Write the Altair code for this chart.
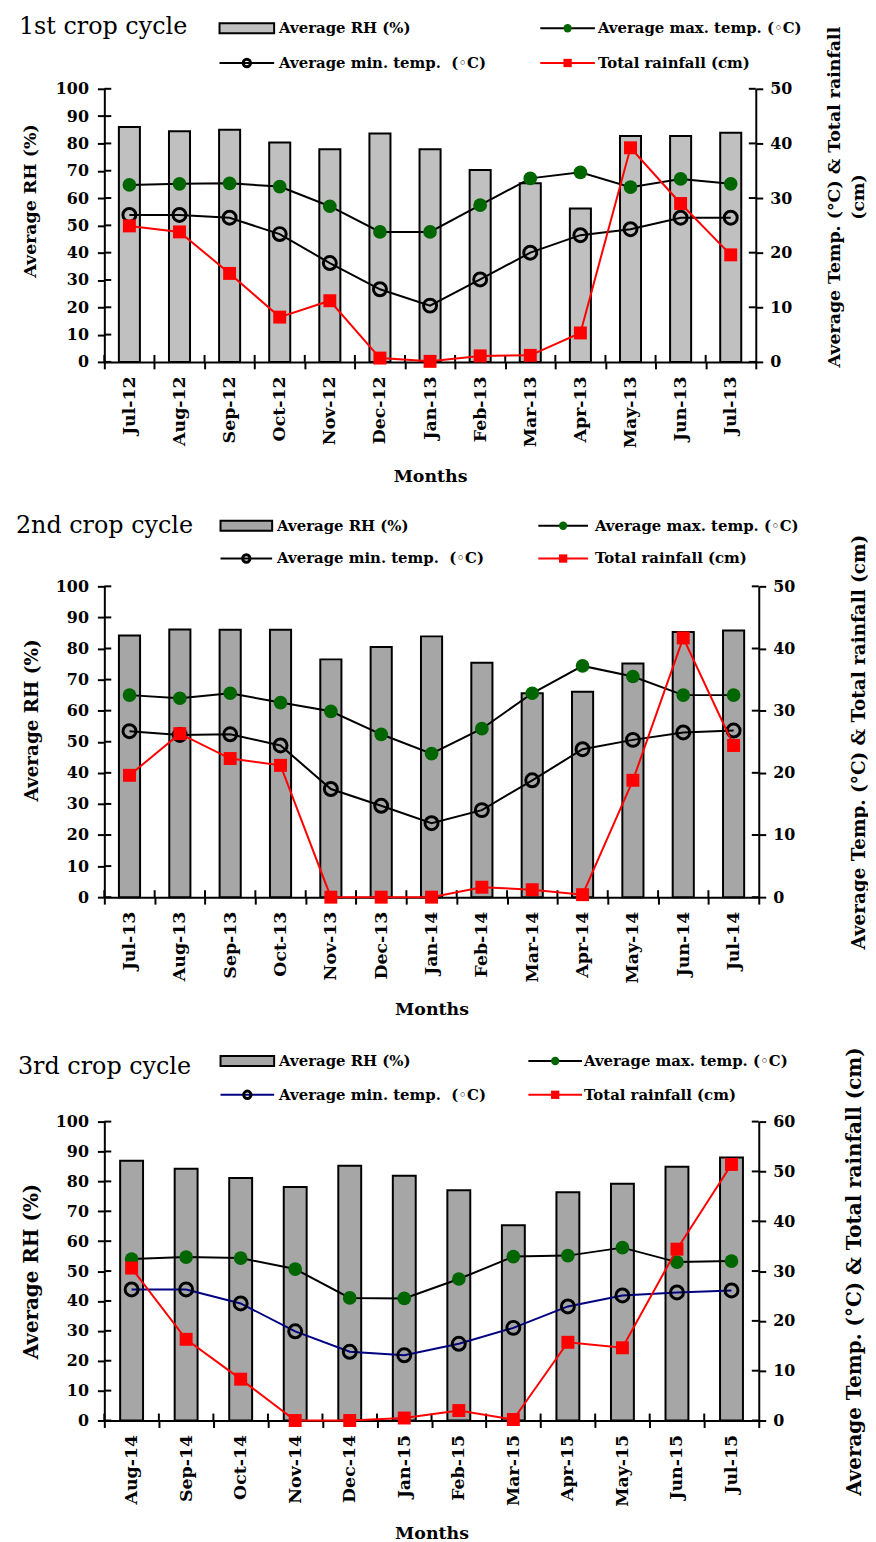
import altair as alt
import pandas as pd

FONT = "DejaVu Serif"

# ---------------- data ----------------
months1 = ["Jul-12", "Aug-12", "Sep-12", "Oct-12", "Nov-12", "Dec-12", "Jan-13",
           "Feb-13", "Mar-13", "Apr-13", "May-13", "Jun-13", "Jul-13"]
rh1 = [86.0, 84.5, 85.0, 80.3, 77.9, 83.6, 77.9, 70.3, 65.4, 56.2, 82.7, 82.7, 83.9]
tmax1 = [32.4, 32.6, 32.7, 32.1, 28.5, 23.8, 23.8, 28.7, 33.6, 34.7, 32.0, 33.5, 32.6]
tmin1 = [26.9, 26.9, 26.4, 23.4, 18.1, 13.3, 10.3, 15.1, 20.0, 23.2, 24.3, 26.4, 26.4]
rain1 = [24.9, 23.8, 16.2, 8.2, 11.2, 0.7, 0.1, 1.1, 1.2, 5.3, 39.2, 29.0, 19.6]

months2 = ["Jul-13", "Aug-13", "Sep-13", "Oct-13", "Nov-13", "Dec-13", "Jan-14",
           "Feb-14", "Mar-14", "Apr-14", "May-14", "Jun-14", "Jul-14"]
rh2 = [84.2, 86.1, 86.0, 86.0, 76.5, 80.5, 83.9, 75.4, 65.6, 66.1, 75.2, 85.3, 85.8]
tmax2 = [32.5, 32.0, 32.8, 31.3, 29.9, 26.2, 23.1, 27.1, 32.8, 37.2, 35.5, 32.5, 32.5]
tmin2 = [26.7, 26.1, 26.2, 24.4, 17.4, 14.7, 11.9, 14.0, 18.8, 23.8, 25.3, 26.5, 26.8]
rain2 = [19.6, 26.3, 22.3, 21.2, 0.0, 0.0, 0.0, 1.6, 1.2, 0.4, 18.8, 41.7, 24.4]

months3 = ["Aug-14", "Sep-14", "Oct-14", "Nov-14", "Dec-14", "Jan-15", "Feb-15",
           "Mar-15", "Apr-15", "May-15", "Jun-15", "Jul-15"]
rh3 = [86.9, 84.2, 81.1, 78.1, 85.2, 81.9, 77.0, 65.3, 76.4, 79.2, 84.9, 88.0]
tmax3 = [32.4, 32.8, 32.6, 30.4, 24.6, 24.5, 28.4, 32.9, 33.1, 34.7, 31.8, 32.0]
tmin3 = [26.3, 26.3, 23.5, 17.9, 13.8, 13.1, 15.4, 18.6, 22.9, 25.1, 25.7, 26.1]
rain3 = [30.6, 16.3, 8.3, 0.0, 0.0, 0.5, 2.0, 0.2, 15.7, 14.6, 34.4, 51.4]

legend_labels = ["Average RH (%)", "Average max. temp. (\u25e6C)",
                 "Average min. temp.\u00a0 (\u25e6C)", "Total rainfall (cm)"]
right_title_long = "Average Temp. (\u00b0C) & Total rainfall (cm)"

GREEN = "#006600"
RED = "#ff0000"
TICK_IN = 7


def one():
    return pd.DataFrame({"k": [0]})


def panel(title, months, rh, tmax, tmin, rain, rmax, bar_color, min_color,
          width, height, right_title, title_size, ltitle_pad, ltitle_dy,
          rtitle_pad, rtitle_dy, months_pad, lg):
    df = pd.DataFrame({"month": months, "rh": rh})
    long = pd.DataFrame({
        "month": months * 3,
        "series": ["max"] * len(months) + ["min"] * len(months) + ["rain"] * len(months),
        "value": tmax + tmin + rain,
    })
    xaxis = alt.Axis(title="Months", labelAngle=-90, tickBand="extent",
                     labelPadding=7, titlePadding=months_pad, labelFontSize=17.5,
                     titleFontSize=17.5)
    xscale = alt.Scale(paddingInner=0, paddingOuter=0)
    x = alt.X("month:N", sort=months, scale=xscale, axis=xaxis)

    lticks = list(range(0, 101, 10))
    laxis = alt.Axis(title="Average RH (%)", values=lticks,
                     titlePadding=ltitle_pad, labelPadding=9,
                     titleY=height / 2 + ltitle_dy, titleFontSize=title_size)
    lscale = alt.Scale(domain=[0, 100], nice=False)
    bars = alt.Chart(df).mark_bar(
        width=alt.RelativeBandSize(0.42), fill=bar_color, stroke="black", strokeWidth=2
    ).encode(x=x, y=alt.Y("rh:Q", scale=lscale, axis=laxis))
    # inner half of the crossing ticks (left axis)
    ltick_marks = alt.Chart(pd.DataFrame({"rh": lticks})).mark_rule(
        color="black", strokeWidth=2).encode(
        x=alt.value(0), x2=alt.value(TICK_IN),
        y=alt.Y("rh:Q", scale=lscale, axis=laxis))
    # inner half of the crossing ticks (x axis, at band edges)
    xtick_marks = alt.Chart(df).mark_rule(color="black", strokeWidth=2).encode(
        x=alt.X("month:N", sort=months, scale=xscale, axis=xaxis, bandPosition=0),
        y=alt.value(height - TICK_IN), y2=alt.value(height))
    left = alt.layer(bars, ltick_marks, xtick_marks)

    rticks = list(range(0, rmax + 1, 10))
    yaxis = alt.Axis(title=right_title, orient="right",
                     values=rticks, titleAngle=-90,
                     titlePadding=rtitle_pad, labelPadding=7, titleLineHeight=24,
                     titleY=height / 2 + rtitle_dy,
                     titleFontSize=title_size)
    rscale = alt.Scale(domain=[0, rmax], nice=False)
    y = alt.Y("value:Q", scale=rscale, axis=yaxis)
    base = alt.Chart(long).encode(x=alt.X("month:N", sort=months), y=y)
    fmax = alt.datum.series == "max"
    fmin = alt.datum.series == "min"
    frain = alt.datum.series == "rain"
    right = alt.layer(
        alt.Chart(pd.DataFrame({"value": rticks})).mark_rule(
            color="black", strokeWidth=2).encode(
            x=alt.value(width - TICK_IN), x2=alt.value(width), y=y),
        base.transform_filter(fmax).mark_line(color="black", strokeWidth=2),
        base.transform_filter(fmax).mark_point(shape="circle", filled=True,
                                               color=GREEN, size=190, opacity=1),
        base.transform_filter(fmin).mark_line(color=min_color, strokeWidth=2),
        base.transform_filter(fmin).mark_point(shape="circle", filled=False,
                                               stroke="black", strokeWidth=3,
                                               size=170, opacity=1),
        base.transform_filter(frain).mark_line(color=RED, strokeWidth=2),
        base.transform_filter(frain).mark_point(shape="square", filled=True,
                                                color=RED, size=170, opacity=1),
    )

    # ---- legend / panel title ----
    c1a, c1b, c1t, c2a, c2b, c2t, r1, r2, tx, ty = lg
    leg = []
    leg.append(alt.Chart(one()).mark_text(
        text=title, font=FONT, fontSize=24, align="left", baseline="alphabetic",
        color="black").encode(x=alt.value(tx), y=alt.value(ty)))
    leg.append(alt.Chart(one()).mark_rect(
        fill=bar_color, stroke="black", strokeWidth=2).encode(
        x=alt.value(c1a), x2=alt.value(c1b), y=alt.value(r1 - 5), y2=alt.value(r1 + 5)))
    leg.append(alt.Chart(one()).mark_rule(color="black", strokeWidth=2).encode(
        x=alt.value(c2a), x2=alt.value(c2b), y=alt.value(r1)))
    leg.append(alt.Chart(one()).mark_point(shape="circle", filled=True, color=GREEN,
                                           size=70, opacity=1).encode(
        x=alt.value((c2a + c2b) / 2), y=alt.value(r1)))
    leg.append(alt.Chart(one()).mark_rule(color=min_color, strokeWidth=2).encode(
        x=alt.value(c1a), x2=alt.value(c1b), y=alt.value(r2)))
    leg.append(alt.Chart(one()).mark_point(shape="circle", filled=False, stroke="black",
                                           strokeWidth=3, size=55, opacity=1).encode(
        x=alt.value((c1a + c1b) / 2), y=alt.value(r2)))
    leg.append(alt.Chart(one()).mark_rule(color=RED, strokeWidth=2).encode(
        x=alt.value(c2a), x2=alt.value(c2b), y=alt.value(r2)))
    leg.append(alt.Chart(one()).mark_point(shape="square", filled=True, color=RED,
                                           size=70, opacity=1).encode(
        x=alt.value((c2a + c2b) / 2), y=alt.value(r2)))
    for lbl, lx, ly in [(legend_labels[0], c1t, r1), (legend_labels[1], c2t, r1),
                        (legend_labels[2], c1t, r2), (legend_labels[3], c2t, r2)]:
        leg.append(alt.Chart(one()).mark_text(
            text=lbl, font=FONT, fontSize=15, fontWeight="bold", align="left",
            baseline="middle", color="black").encode(x=alt.value(lx), y=alt.value(ly)))

    return alt.layer(left, right, *leg).resolve_scale(y="independent").properties(
        width=width, height=height)


p1 = panel("1st crop cycle", months1, rh1, tmax1, tmin1, rain1, 50, "#c0c0c0", "black",
           656, 275, ["Average Temp. (\u00b0C) & Total rainfall", "(cm)"], 17.5,
           16, -25, 28, -29, 20,
           (116, 171, 176, 439, 494, 497, -61, -26, -86, -55))
p2 = panel("2nd crop cycle", months2, rh2, tmax2, tmin2, rain2, 50, "#a6a6a6", "black",
           659, 313, right_title_long, 18.5,
           14, -22, 74, 0, 18,
           (117, 169, 174, 437, 487, 494, -61, -28, -89, -54))
p3 = panel("3rd crop cycle", months3, rh3, tmax3, tmin3, rain3, 60, "#a6a6a6", "#000080",
           659, 301, right_title_long, 20,
           14, 0, 70, 0, 18,
           (117, 171, 176, 427, 481, 483, -61, -27, -87, -48))

chart = alt.vconcat(p1, p2, p3, spacing=226, bounds="flush").configure(
    padding={"left": 8, "top": 2, "right": 0, "bottom": 0}
).configure_view(stroke=None).configure_axis(
    domainColor="black", domainWidth=2, tickColor="black", tickWidth=2, tickSize=7,
    labelFont=FONT, labelFontWeight="bold", labelFontSize=16, labelColor="black",
    titleFont=FONT, titleFontWeight="bold", titleColor="black", grid=False,
)

chart.save("out.html", embed_options={"renderer": "svg", "actions": False})
